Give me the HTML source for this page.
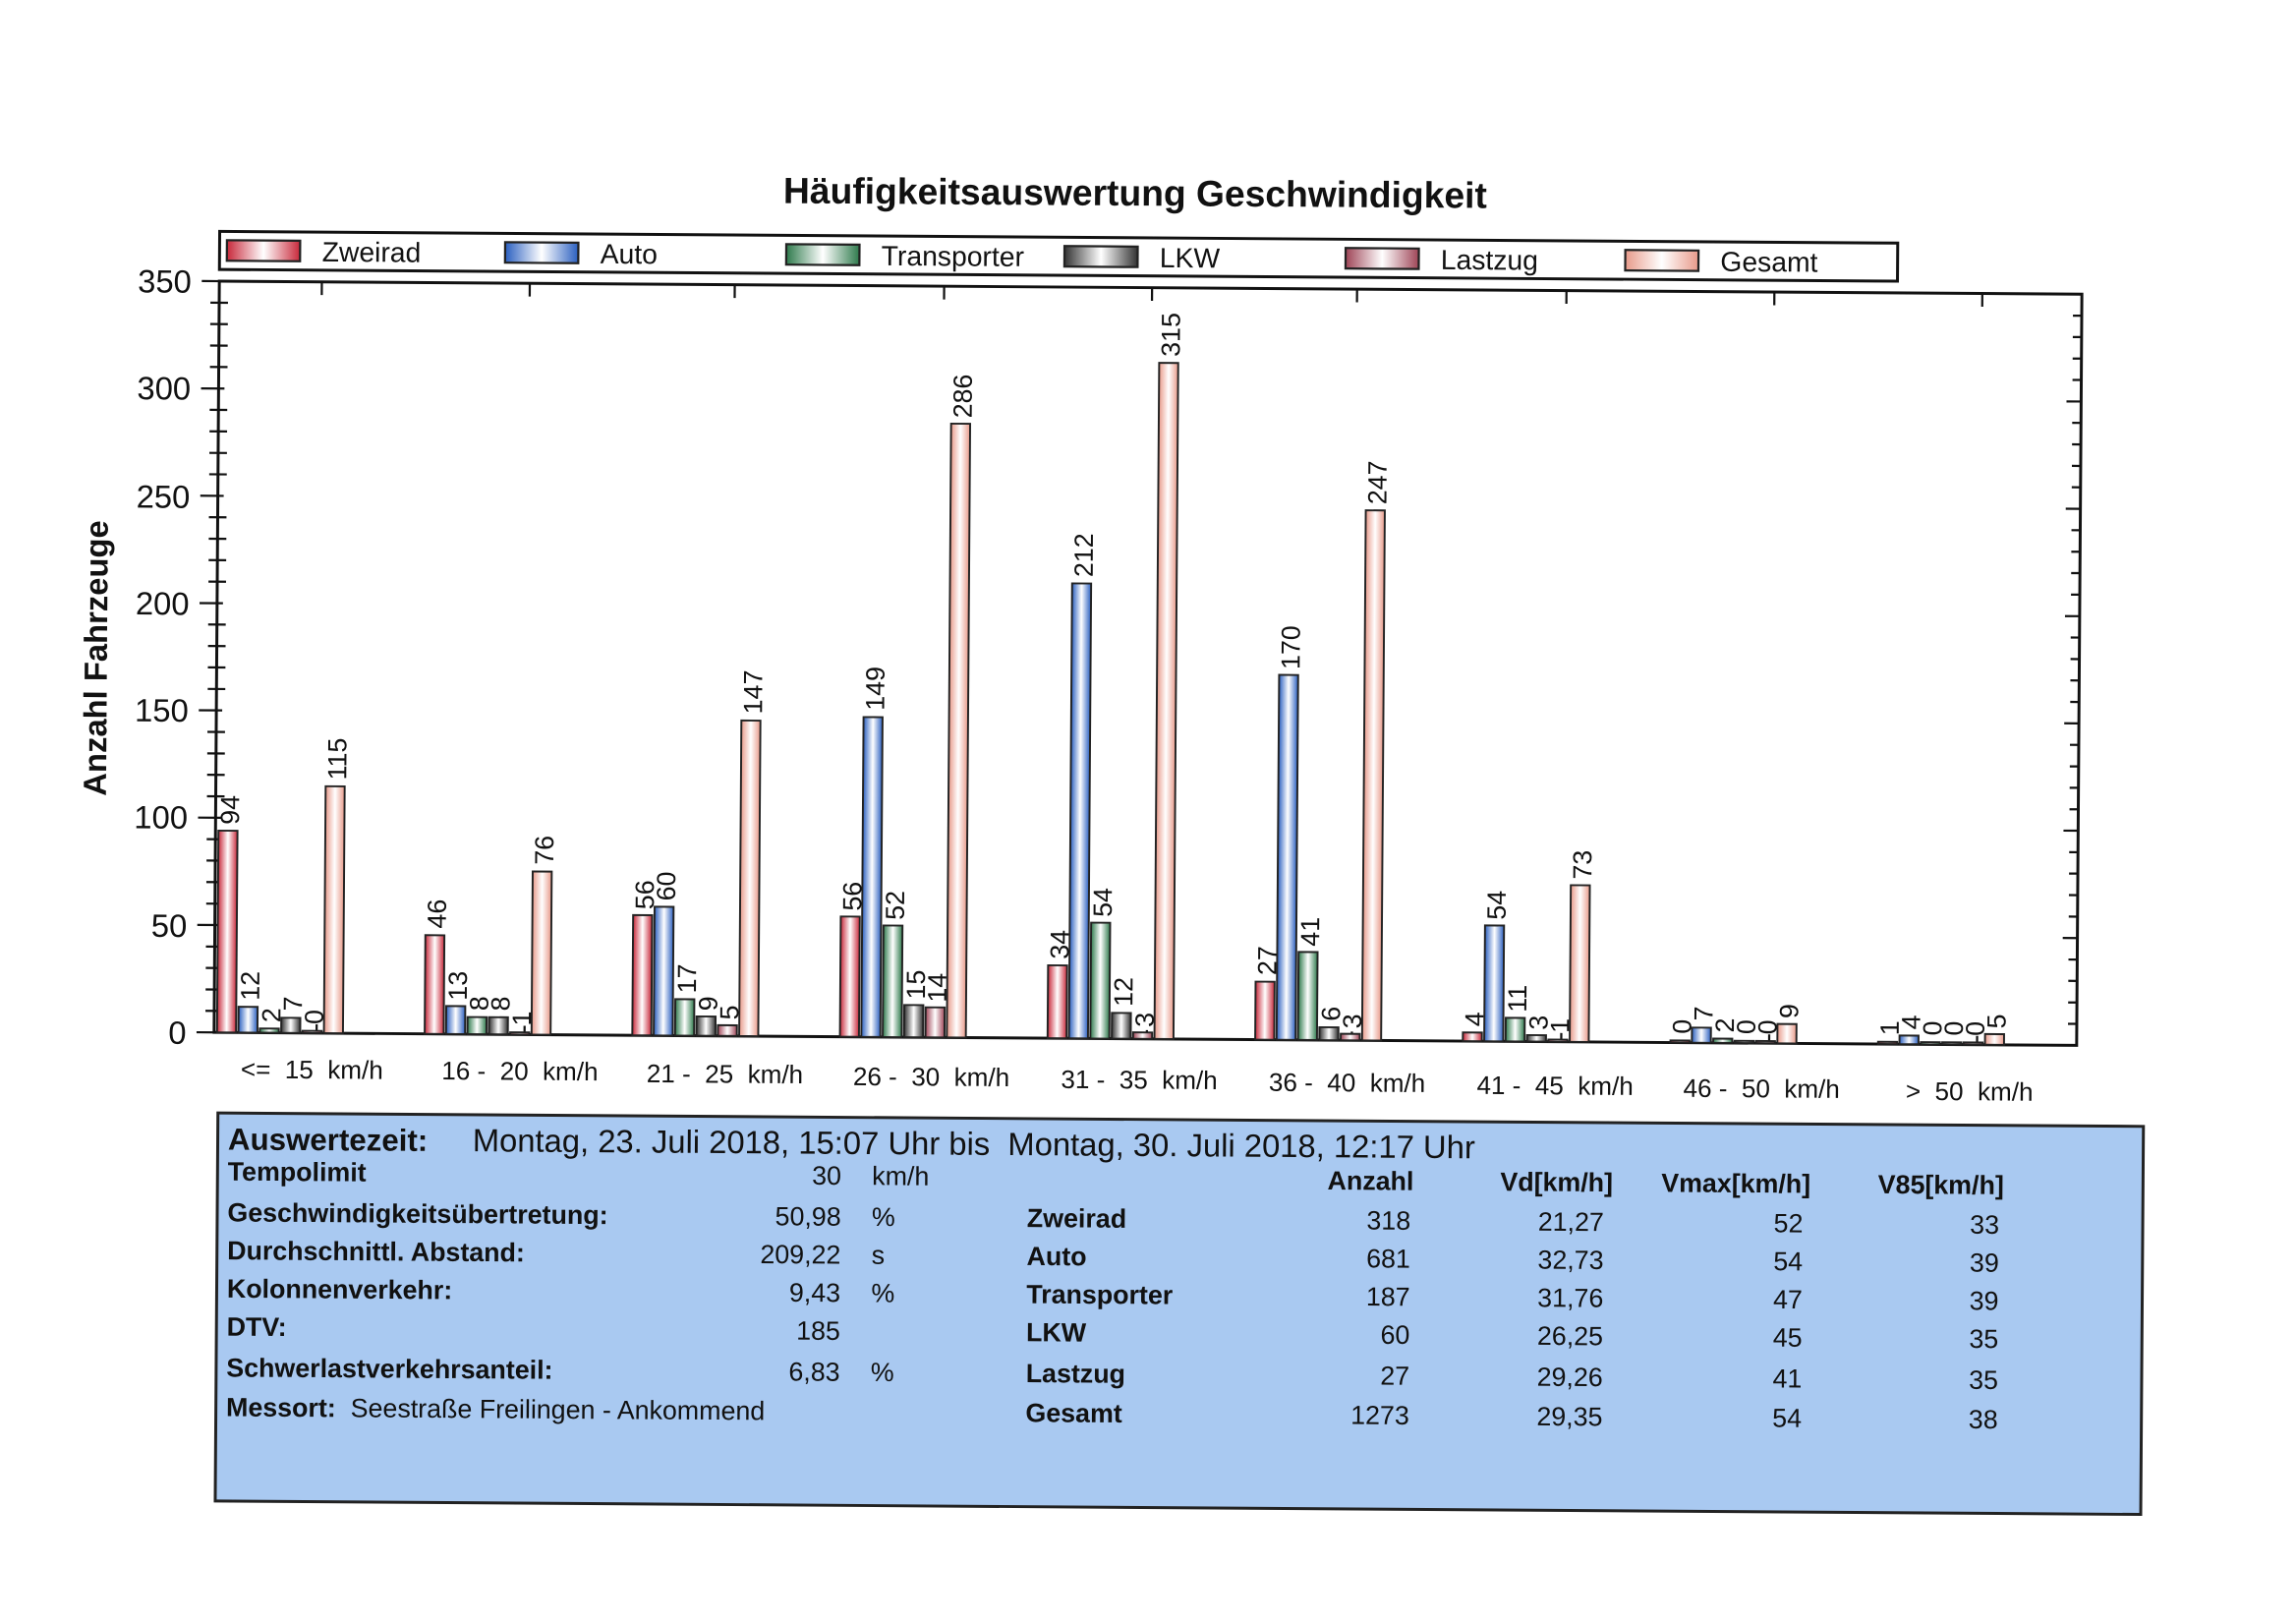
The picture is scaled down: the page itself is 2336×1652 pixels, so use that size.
<!DOCTYPE html>
<html><head><meta charset="utf-8"><style>
html,body{margin:0;padding:0;background:#fff;width:2336px;height:1652px;overflow:hidden}
svg{display:block}
text{font-family:"Liberation Sans",Arial,sans-serif;fill:#111}
.b{font-weight:bold}
</style></head><body>
<svg width="2336" height="1652" viewBox="0 0 1568 1109" preserveAspectRatio="none">
<defs>
<linearGradient id="gZ"><stop offset="0" stop-color="#c8283a"/><stop offset=".5" stop-color="#fff"/><stop offset="1" stop-color="#c8283a"/></linearGradient>
<linearGradient id="gA"><stop offset="0" stop-color="#2a5fc0"/><stop offset=".5" stop-color="#fff"/><stop offset="1" stop-color="#2a5fc0"/></linearGradient>
<linearGradient id="gT"><stop offset="0" stop-color="#2e7a4c"/><stop offset=".5" stop-color="#fff"/><stop offset="1" stop-color="#2e7a4c"/></linearGradient>
<linearGradient id="gL"><stop offset="0" stop-color="#333"/><stop offset=".5" stop-color="#fff"/><stop offset="1" stop-color="#333"/></linearGradient>
<linearGradient id="gC"><stop offset="0" stop-color="#9e4456"/><stop offset=".5" stop-color="#fff"/><stop offset="1" stop-color="#9e4456"/></linearGradient>
<linearGradient id="gG"><stop offset="0" stop-color="#e89a8a"/><stop offset=".5" stop-color="#fff"/><stop offset="1" stop-color="#e89a8a"/></linearGradient>
</defs>
<g transform="rotate(0.4 148 450)">
<text x="773" y="136" class="b" font-size="25" text-anchor="middle">Häufigkeitsauswertung Geschwindigkeit</text>
<rect x="148" y="158" width="1146" height="26" fill="#fff" stroke="#111" stroke-width="2"/>
<g stroke="#222" stroke-width="1.5">
<rect x="153" y="164" width="50" height="14" fill="url(#gZ)"/>
<rect x="343" y="164" width="50" height="14" fill="url(#gA)"/>
<rect x="535" y="164" width="50" height="14" fill="url(#gT)"/>
<rect x="725" y="164" width="50" height="14" fill="url(#gL)"/>
<rect x="917" y="164" width="50" height="14" fill="url(#gC)"/>
<rect x="1108" y="164" width="50" height="14" fill="url(#gG)"/>
</g>
<g font-size="19">
<text x="218" y="178">Zweirad</text><text x="408" y="178">Auto</text><text x="600" y="178">Transporter</text>
<text x="790" y="178">LKW</text><text x="982" y="178">Lastzug</text><text x="1173" y="178">Gesamt</text>
</g>
<rect x="148" y="192" width="1272" height="513" fill="none" stroke="#111" stroke-width="2"/>
<path stroke="#111" stroke-width="1.5" fill="none" d="M142 690.3h12M142 675.7h12M142 661h12M142 646.4h12M142 617.1h12M142 602.4h12M142 587.7h12M142 573.1h12M142 543.8h12M142 529.1h12M142 514.5h12M142 499.8h12M142 470.5h12M142 455.8h12M142 441.2h12M142 426.5h12M142 397.2h12M142 382.5h12M142 367.9h12M142 353.2h12M142 323.9h12M142 309.3h12M142 294.6h12M142 279.9h12M142 250.6h12M142 236h12M142 221.3h12M142 206.7h12
M136 705h16M136 631.7h16M136 558.4h16M136 485.1h16M136 411.9h16M136 338.6h16M136 265.3h16M136 192h16
M1420 690.3h-6M1420 675.7h-6M1420 661h-6M1420 646.4h-6M1420 631.7h-10M1420 617.1h-6M1420 602.4h-6M1420 587.7h-6M1420 573.1h-6M1420 558.4h-10M1420 543.8h-6M1420 529.1h-6M1420 514.5h-6M1420 499.8h-6M1420 485.1h-10M1420 470.5h-6M1420 455.8h-6M1420 441.2h-6M1420 426.5h-6M1420 411.9h-10M1420 397.2h-6M1420 382.5h-6M1420 367.9h-6M1420 353.2h-6M1420 338.6h-10M1420 323.9h-6M1420 309.3h-6M1420 294.6h-6M1420 279.9h-6M1420 265.3h-10M1420 250.6h-6M1420 236h-6M1420 221.3h-6M1420 206.7h-6
M218 192v9M360 192v9M500 192v9M643 192v9M785 192v9M925 192v9M1068 192v9M1210 192v9M1352 192v9
M218 705v-6M360 705v-6M500 705v-6M643 705v-6M785 705v-6M925 705v-6M1068 705v-6M1210 705v-6M1352 705v-6"/>
<g font-size="22" text-anchor="end">
<text x="129" y="713">0</text><text x="129" y="640">50</text><text x="129" y="566">100</text><text x="129" y="493">150</text>
<text x="129" y="420">200</text><text x="129" y="347">250</text><text x="129" y="273">300</text><text x="129" y="200">350</text>
</g>
<text transform="translate(73 450) rotate(-90)" class="b" font-size="22" text-anchor="middle">Anzahl Fahrzeuge</text>
<g font-size="17.5" text-anchor="middle">
<text x="215" y="736">&lt;=&#160; 15&#160; km/h</text><text x="357" y="736">16 -&#160; 20&#160; km/h</text><text x="497" y="737">21 -&#160; 25&#160; km/h</text>
<text x="638" y="738">26 -&#160; 30&#160; km/h</text><text x="780" y="739">31 -&#160; 35&#160; km/h</text><text x="922" y="740">36 -&#160; 40&#160; km/h</text>
<text x="1064" y="741">41 -&#160; 45&#160; km/h</text><text x="1205" y="742">46 -&#160; 50&#160; km/h</text><text x="1347" y="743">&gt;&#160; 50&#160; km/h</text>
</g>
<g stroke="#222" stroke-width="1.3">
<rect x="150" y="567.2" width="13" height="137.8" fill="url(#gZ)"/><rect x="164.6" y="687.4" width="13" height="17.6" fill="url(#gA)"/><rect x="179.2" y="702.1" width="13" height="2.9" fill="url(#gT)"/><rect x="193.8" y="694.7" width="13" height="10.3" fill="url(#gL)"/><rect x="208.4" y="703.5" width="13" height="1.5" fill="url(#gC)"/><rect x="223" y="536.4" width="13" height="168.6" fill="url(#gG)"/>
<rect x="291.8" y="637.6" width="13" height="67.4" fill="url(#gZ)"/><rect x="306.4" y="685.9" width="13" height="19.1" fill="url(#gA)"/><rect x="321" y="693.3" width="13" height="11.7" fill="url(#gT)"/><rect x="335.6" y="693.3" width="13" height="11.7" fill="url(#gL)"/><rect x="350.2" y="703.5" width="13" height="1.5" fill="url(#gC)"/><rect x="364.8" y="593.6" width="13" height="111.4" fill="url(#gG)"/>
<rect x="433.6" y="622.9" width="13" height="82.1" fill="url(#gZ)"/><rect x="448.2" y="617.1" width="13" height="87.9" fill="url(#gA)"/><rect x="462.8" y="680.1" width="13" height="24.9" fill="url(#gT)"/><rect x="477.4" y="691.8" width="13" height="13.2" fill="url(#gL)"/><rect x="492" y="697.7" width="13" height="7.3" fill="url(#gC)"/><rect x="506.6" y="489.5" width="13" height="215.5" fill="url(#gG)"/>
<rect x="575.4" y="622.9" width="13" height="82.1" fill="url(#gZ)"/><rect x="590" y="486.6" width="13" height="218.4" fill="url(#gA)"/><rect x="604.6" y="628.8" width="13" height="76.2" fill="url(#gT)"/><rect x="619.2" y="683" width="13" height="22" fill="url(#gL)"/><rect x="633.8" y="684.5" width="13" height="20.5" fill="url(#gC)"/><rect x="648.4" y="285.8" width="13" height="419.2" fill="url(#gG)"/>
<rect x="717.2" y="655.2" width="13" height="49.8" fill="url(#gZ)"/><rect x="731.8" y="394.3" width="13" height="310.7" fill="url(#gA)"/><rect x="746.4" y="625.9" width="13" height="79.1" fill="url(#gT)"/><rect x="761" y="687.4" width="13" height="17.6" fill="url(#gL)"/><rect x="775.6" y="700.6" width="13" height="4.4" fill="url(#gC)"/><rect x="790.2" y="243.3" width="13" height="461.7" fill="url(#gG)"/>
<rect x="859" y="665.4" width="13" height="39.6" fill="url(#gZ)"/><rect x="873.6" y="455.8" width="13" height="249.2" fill="url(#gA)"/><rect x="888.2" y="644.9" width="13" height="60.1" fill="url(#gT)"/><rect x="902.8" y="696.2" width="13" height="8.8" fill="url(#gL)"/><rect x="917.4" y="700.6" width="13" height="4.4" fill="url(#gC)"/><rect x="932" y="343" width="13" height="362" fill="url(#gG)"/>
<rect x="1000.8" y="699.1" width="13" height="5.9" fill="url(#gZ)"/><rect x="1015.4" y="625.9" width="13" height="79.1" fill="url(#gA)"/><rect x="1030" y="688.9" width="13" height="16.1" fill="url(#gT)"/><rect x="1044.6" y="700.6" width="13" height="4.4" fill="url(#gL)"/><rect x="1059.2" y="703.5" width="13" height="1.5" fill="url(#gC)"/><rect x="1073.8" y="598" width="13" height="107" fill="url(#gG)"/>
<rect x="1142.6" y="703.5" width="13" height="1.5" fill="url(#gZ)"/><rect x="1157.2" y="694.7" width="13" height="10.3" fill="url(#gA)"/><rect x="1171.8" y="702.1" width="13" height="2.9" fill="url(#gT)"/><rect x="1186.4" y="703.5" width="13" height="1.5" fill="url(#gL)"/><rect x="1201" y="703.5" width="13" height="1.5" fill="url(#gC)"/><rect x="1215.6" y="691.8" width="13" height="13.2" fill="url(#gG)"/>
<rect x="1284.4" y="703.5" width="13" height="1.5" fill="url(#gZ)"/><rect x="1299" y="699.1" width="13" height="5.9" fill="url(#gA)"/><rect x="1313.6" y="703.5" width="13" height="1.5" fill="url(#gT)"/><rect x="1328.2" y="703.5" width="13" height="1.5" fill="url(#gL)"/><rect x="1342.8" y="703.5" width="13" height="1.5" fill="url(#gC)"/><rect x="1357.4" y="697.7" width="13" height="7.3" fill="url(#gG)"/>
</g>
<g font-size="18">
<text transform="translate(164 563) rotate(-90)">94</text><text transform="translate(178.6 683) rotate(-90)">12</text><text transform="translate(193.2 698) rotate(-90)">2</text><text transform="translate(207.8 690) rotate(-90)">7</text><text transform="translate(222.4 699) rotate(-90)">0</text><text transform="translate(237 532) rotate(-90)">115</text>
<text transform="translate(305.8 633) rotate(-90)">46</text><text transform="translate(320.4 682) rotate(-90)">13</text><text transform="translate(335 689) rotate(-90)">8</text><text transform="translate(349.6 689) rotate(-90)">8</text><text transform="translate(364.2 699) rotate(-90)">1</text><text transform="translate(378.8 589) rotate(-90)">76</text>
<text transform="translate(447.6 619) rotate(-90)">56</text><text transform="translate(462.2 613) rotate(-90)">60</text><text transform="translate(476.8 676) rotate(-90)">17</text><text transform="translate(491.4 688) rotate(-90)">9</text><text transform="translate(506 694) rotate(-90)">5</text><text transform="translate(520.6 485) rotate(-90)">147</text>
<text transform="translate(589.4 619) rotate(-90)">56</text><text transform="translate(604 482) rotate(-90)">149</text><text transform="translate(618.6 625) rotate(-90)">52</text><text transform="translate(633.2 679) rotate(-90)">15</text><text transform="translate(647.8 681) rotate(-90)">14</text><text transform="translate(662.4 282) rotate(-90)">286</text>
<text transform="translate(731.2 651) rotate(-90)">34</text><text transform="translate(745.8 390) rotate(-90)">212</text><text transform="translate(760.4 622) rotate(-90)">54</text><text transform="translate(775 683) rotate(-90)">12</text><text transform="translate(789.6 697) rotate(-90)">3</text><text transform="translate(804.2 239) rotate(-90)">315</text>
<text transform="translate(873 661) rotate(-90)">27</text><text transform="translate(887.6 452) rotate(-90)">170</text><text transform="translate(902.2 641) rotate(-90)">41</text><text transform="translate(916.8 692) rotate(-90)">6</text><text transform="translate(931.4 697) rotate(-90)">3</text><text transform="translate(946 339) rotate(-90)">247</text>
<text transform="translate(1014.8 695) rotate(-90)">4</text><text transform="translate(1029.4 622) rotate(-90)">54</text><text transform="translate(1044 685) rotate(-90)">11</text><text transform="translate(1058.6 697) rotate(-90)">3</text><text transform="translate(1073.2 699) rotate(-90)">1</text><text transform="translate(1087.8 594) rotate(-90)">73</text>
<text transform="translate(1156.6 699) rotate(-90)">0</text><text transform="translate(1171.2 690) rotate(-90)">7</text><text transform="translate(1185.8 698) rotate(-90)">2</text><text transform="translate(1200.4 699) rotate(-90)">0</text><text transform="translate(1215 699) rotate(-90)">0</text><text transform="translate(1229.6 688) rotate(-90)">9</text>
<text transform="translate(1298.4 699) rotate(-90)">1</text><text transform="translate(1313 695) rotate(-90)">4</text><text transform="translate(1327.6 699) rotate(-90)">0</text><text transform="translate(1342.2 699) rotate(-90)">0</text><text transform="translate(1356.8 699) rotate(-90)">0</text><text transform="translate(1371.4 694) rotate(-90)">5</text>
</g>
<rect x="151" y="760" width="1315" height="265" fill="#a9c9f1" stroke="#222" stroke-width="2"/>
<text x="158" y="785" class="b" font-size="21">Auswertezeit:</text>
<text x="325" y="785" font-size="22">Montag, 23. Juli 2018, 15:07 Uhr bis&#160; Montag, 30. Juli 2018, 12:17 Uhr</text>
<g font-size="18">
<g class="b">
<text x="158" y="806">Tempolimit</text><text x="158" y="834">Geschwindigkeitsübertretung:</text><text x="158" y="860">Durchschnittl. Abstand:</text>
<text x="158" y="886">Kolonnenverkehr:</text><text x="158" y="912">DTV:</text><text x="158" y="940">Schwerlastverkehrsanteil:</text><text x="158" y="967">Messort:</text>
<text x="704" y="834">Zweirad</text><text x="704" y="860">Auto</text><text x="704" y="886">Transporter</text><text x="704" y="912">LKW</text><text x="704" y="940">Lastzug</text><text x="704" y="967">Gesamt</text>
</g>
<text x="243" y="967">Seestraße Freilingen - Ankommend</text>
<g text-anchor="end">
<text x="577" y="806">30</text><text x="577" y="834">50,98</text><text x="577" y="860">209,22</text><text x="577" y="886">9,43</text><text x="577" y="912">185</text><text x="577" y="940">6,83</text>
<g class="b"><text x="968" y="807">Anzahl</text><text x="1104" y="807">Vd[km/h]</text><text x="1239" y="807">Vmax[km/h]</text><text x="1371" y="807">V85[km/h]</text></g>
<text x="966" y="834">318</text><text x="966" y="860">681</text><text x="966" y="886">187</text><text x="966" y="912">60</text><text x="966" y="940">27</text><text x="966" y="967">1273</text>
<text x="1098" y="834">21,27</text><text x="1098" y="860">32,73</text><text x="1098" y="886">31,76</text><text x="1098" y="912">26,25</text><text x="1098" y="940">29,26</text><text x="1098" y="967">29,35</text>
<text x="1234" y="834">52</text><text x="1234" y="860">54</text><text x="1234" y="886">47</text><text x="1234" y="912">45</text><text x="1234" y="940">41</text><text x="1234" y="967">54</text>
<text x="1368" y="834">33</text><text x="1368" y="860">39</text><text x="1368" y="886">39</text><text x="1368" y="912">35</text><text x="1368" y="940">35</text><text x="1368" y="967">38</text>
</g>
<text x="598" y="806">km/h</text><text x="598" y="834">%</text><text x="598" y="860">s</text><text x="598" y="886">%</text><text x="598" y="940">%</text>
</g>
</g>
</svg>
</body></html>
